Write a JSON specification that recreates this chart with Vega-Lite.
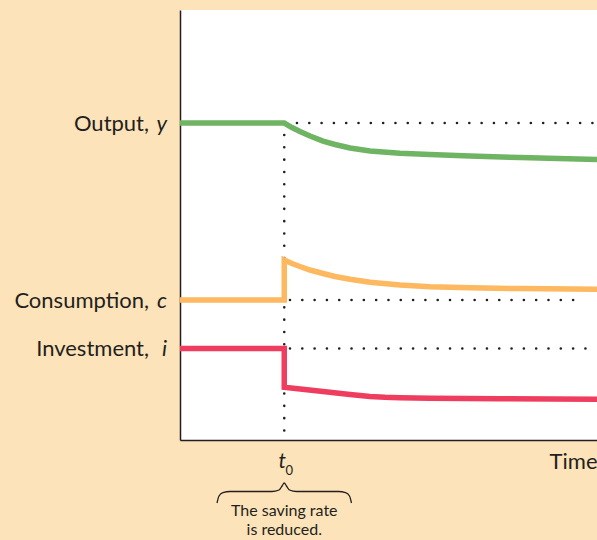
{
  "$schema": "https://vega.github.io/schema/vega-lite/v6.json",
  "width": 417,
  "height": 430,
  "autosize": {"type": "none"},
  "padding": {"left": 180, "top": 10, "right": 0, "bottom": 100},
  "background": "#fde3b9",
  "config": {
    "view": {"fill": "white", "stroke": null},
    "font": "Lato",
    "text": {"font": "Lato", "color": "#231f20"}
  },
  "datasets": {
    "series": [
      {"s": "Output", "i": 0, "t": -1, "v": 7.372},
      {"s": "Output", "i": 1, "t": 0, "v": 7.372},
      {"s": "Output", "i": 2, "t": 0.074, "v": 7.267},
      {"s": "Output", "i": 3, "t": 0.151, "v": 7.174},
      {"s": "Output", "i": 4, "t": 0.247, "v": 7.07},
      {"s": "Output", "i": 5, "t": 0.372, "v": 6.953},
      {"s": "Output", "i": 6, "t": 0.487, "v": 6.872},
      {"s": "Output", "i": 7, "t": 0.631, "v": 6.791},
      {"s": "Output", "i": 8, "t": 0.823, "v": 6.721},
      {"s": "Output", "i": 9, "t": 1.11, "v": 6.67},
      {"s": "Output", "i": 10, "t": 1.398, "v": 6.637},
      {"s": "Output", "i": 11, "t": 1.782, "v": 6.605},
      {"s": "Output", "i": 12, "t": 2.261, "v": 6.57},
      {"s": "Output", "i": 13, "t": 3.0, "v": 6.523},
      {"s": "Consumption", "i": 0, "t": -1, "v": 3.256},
      {"s": "Consumption", "i": 1, "t": 0, "v": 3.256},
      {"s": "Consumption", "i": 2, "t": 0, "v": 4.186},
      {"s": "Consumption", "i": 3, "t": 0.074, "v": 4.105},
      {"s": "Consumption", "i": 4, "t": 0.151, "v": 4.035},
      {"s": "Consumption", "i": 5, "t": 0.247, "v": 3.953},
      {"s": "Consumption", "i": 6, "t": 0.372, "v": 3.872},
      {"s": "Consumption", "i": 7, "t": 0.487, "v": 3.802},
      {"s": "Consumption", "i": 8, "t": 0.631, "v": 3.737},
      {"s": "Consumption", "i": 9, "t": 0.823, "v": 3.667},
      {"s": "Consumption", "i": 10, "t": 1.11, "v": 3.605},
      {"s": "Consumption", "i": 11, "t": 1.398, "v": 3.565},
      {"s": "Consumption", "i": 12, "t": 1.782, "v": 3.54},
      {"s": "Consumption", "i": 13, "t": 2.261, "v": 3.521},
      {"s": "Consumption", "i": 14, "t": 3.0, "v": 3.505},
      {"s": "Investment", "i": 0, "t": -1, "v": 2.128},
      {"s": "Investment", "i": 1, "t": 0, "v": 2.128},
      {"s": "Investment", "i": 2, "t": 0, "v": 1.226},
      {"s": "Investment", "i": 3, "t": 0.372, "v": 1.126},
      {"s": "Investment", "i": 4, "t": 0.631, "v": 1.056},
      {"s": "Investment", "i": 5, "t": 0.823, "v": 1.014},
      {"s": "Investment", "i": 6, "t": 0.966, "v": 0.995},
      {"s": "Investment", "i": 7, "t": 1.11, "v": 0.984},
      {"s": "Investment", "i": 8, "t": 1.398, "v": 0.972},
      {"s": "Investment", "i": 9, "t": 2.07, "v": 0.958},
      {"s": "Investment", "i": 10, "t": 3.0, "v": 0.947}
    ],
    "guides": [
      {"t": 0.122, "t2": 3.0, "v": 7.372, "v2": 7.372},
      {"t": 0, "t2": 0, "v": 7.093, "v2": 0.05},
      {"t": 0.055, "t2": 2.875, "v": 3.256, "v2": 3.256},
      {"t": 0.055, "t2": 3.0, "v": 2.128, "v2": 2.128}
    ],
    "labels": [
      {"name": "Output,", "var": "y", "v": 7.372},
      {"name": "Consumption,", "var": "c", "v": 3.256},
      {"name": "Investment,", "var": "i", "v": 2.128}
    ],
    "notes": [
      {"t": 0, "sym": "t", "sub": "0", "note": "The saving rate\nis reduced."}
    ],
    "brace": [
      {"t": -0.645, "v": -1.465},
      {"t": -0.626, "v": -1.302},
      {"t": -0.588, "v": -1.221},
      {"t": -0.52, "v": -1.198},
      {"t": -0.118, "v": -1.198},
      {"t": -0.05, "v": -1.163},
      {"t": -0.021, "v": -1.07},
      {"t": 0, "v": -1.0},
      {"t": 0.021, "v": -1.07},
      {"t": 0.05, "v": -1.163},
      {"t": 0.118, "v": -1.198},
      {"t": 0.52, "v": -1.198},
      {"t": 0.588, "v": -1.221},
      {"t": 0.626, "v": -1.302},
      {"t": 0.645, "v": -1.465}
    ]
  },
  "layer": [
    {
      "data": {"name": "guides"},
      "mark": {"type": "rule", "color": "#231f20", "strokeWidth": 2.6, "strokeCap": "round", "strokeDash": [0.01, 12.3]},
      "encoding": {
        "x": {
          "field": "t", "type": "quantitative",
          "scale": {"domain": [-1, 3], "nice": false, "zero": false},
          "axis": {
            "domain": true, "domainColor": "#231f20", "domainWidth": 1.5,
            "ticks": false, "labels": false, "grid": false,
            "title": "Time", "titleFont": "Lato", "titleFontSize": 22, "titleFontWeight": "normal",
            "titleColor": "#231f20", "titleAlign": "right", "titleBaseline": "alphabetic",
            "titleX": 417, "titleY": 28
          }
        },
        "x2": {"field": "t2"},
        "y": {
          "field": "v", "type": "quantitative",
          "scale": {"domain": [0, 10], "nice": false, "zero": false},
          "axis": {
            "domain": true, "domainColor": "#231f20", "domainWidth": 1.5,
            "ticks": false, "labels": false, "grid": false, "title": null
          }
        },
        "y2": {"field": "v2"}
      }
    },
    {
      "data": {"name": "series"},
      "mark": {"type": "line", "strokeWidth": 5.5, "strokeJoin": "miter", "strokeCap": "butt"},
      "encoding": {
        "x": {"field": "t", "type": "quantitative"},
        "y": {"field": "v", "type": "quantitative"},
        "order": {"field": "i", "type": "quantitative"},
        "color": {
          "field": "s", "type": "nominal",
          "scale": {"domain": ["Output", "Consumption", "Investment"], "range": ["#6fb462", "#fdb860", "#ef3d5f"]},
          "legend": null
        }
      }
    },
    {
      "data": {"name": "brace"},
      "mark": {"type": "line", "color": "#231f20", "strokeWidth": 1.3, "interpolate": "monotone"},
      "encoding": {
        "x": {"field": "t", "type": "quantitative"},
        "y": {"field": "v", "type": "quantitative"}
      }
    },
    {
      "data": {"name": "labels"},
      "mark": {"type": "text", "align": "right", "baseline": "middle", "fontSize": 22, "dx": -31, "dy": 1},
      "encoding": {
        "x": {"datum": -1},
        "y": {"field": "v", "type": "quantitative"},
        "text": {"field": "name"}
      }
    },
    {
      "data": {"name": "labels"},
      "mark": {"type": "text", "align": "right", "baseline": "middle", "fontSize": 22, "fontStyle": "italic", "dx": -13, "dy": 1},
      "encoding": {
        "x": {"datum": -1},
        "y": {"field": "v", "type": "quantitative"},
        "text": {"field": "var"}
      }
    },
    {
      "data": {"name": "notes"},
      "mark": {"type": "text", "align": "center", "baseline": "alphabetic", "fontSize": 21, "fontStyle": "italic", "dx": -2, "dy": 28},
      "encoding": {
        "x": {"field": "t", "type": "quantitative"},
        "y": {"datum": 0},
        "text": {"field": "sym"}
      }
    },
    {
      "data": {"name": "notes"},
      "mark": {"type": "text", "align": "center", "baseline": "alphabetic", "fontSize": 13, "dx": 5, "dy": 35},
      "encoding": {
        "x": {"field": "t", "type": "quantitative"},
        "y": {"datum": 0},
        "text": {"field": "sub"}
      }
    },
    {
      "data": {"name": "notes"},
      "mark": {"type": "text", "align": "center", "baseline": "alphabetic", "fontSize": 16, "lineBreak": "\n", "lineHeight": 19, "dx": 0, "dy": 76},
      "encoding": {
        "x": {"field": "t", "type": "quantitative"},
        "y": {"datum": 0},
        "text": {"field": "note"}
      }
    }
  ]
}
